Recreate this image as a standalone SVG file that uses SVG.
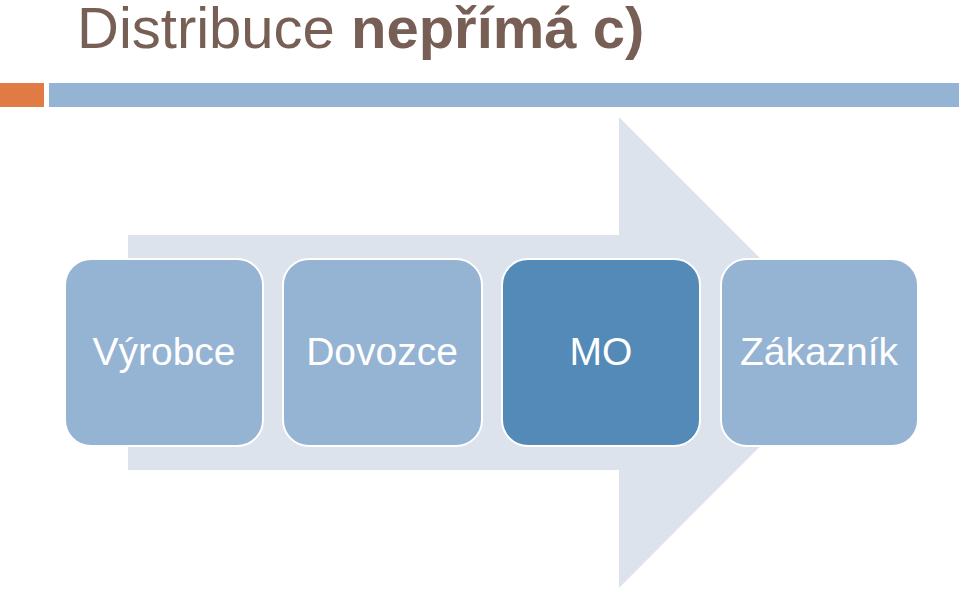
<svg xmlns="http://www.w3.org/2000/svg" width="959" height="589" viewBox="0 0 959 589">
<style>
.box{stroke:#ffffff;stroke-width:2}
.light{fill:#95B3D3}
.dark{fill:#548AB8}
.lbl{font-family:"Liberation Sans",Arial,sans-serif;font-size:39px;fill:#ffffff;text-anchor:middle}
.title{font-family:"Liberation Sans",Arial,sans-serif;font-size:58px;fill:#775F55}
</style>
<rect width="959" height="589" fill="#ffffff"/>
<text class="title" x="77" y="48">Distribuce <tspan font-weight="bold">nepřímá c)</tspan></text>
<rect x="0" y="83" width="44" height="24" fill="#E07B45"/>
<rect x="49" y="83" width="910" height="24" fill="#95B3D3"/>
<g id="connectors">
<path d="M128,235 H619 V117 L854,352 L619,588 V470 H128 Z" fill="#DDE3EC"/>
</g>
<g id="n1"><rect class="box light" x="65" y="259" width="198" height="187" rx="26"/><text class="lbl" x="164" y="365">Výrobce</text></g>
<g id="n2"><rect class="box light" x="283" y="259" width="199" height="187" rx="26"/><text class="lbl" x="382" y="365">Dovozce</text></g>
<g id="n3"><rect class="box dark" x="502" y="259" width="198" height="187" rx="26"/><text class="lbl" x="601" y="365">MO</text></g>
<g id="n4"><rect class="box light" x="721" y="259" width="197" height="187" rx="26"/><text class="lbl" x="819" y="365">Zákazník</text></g>
</svg>
